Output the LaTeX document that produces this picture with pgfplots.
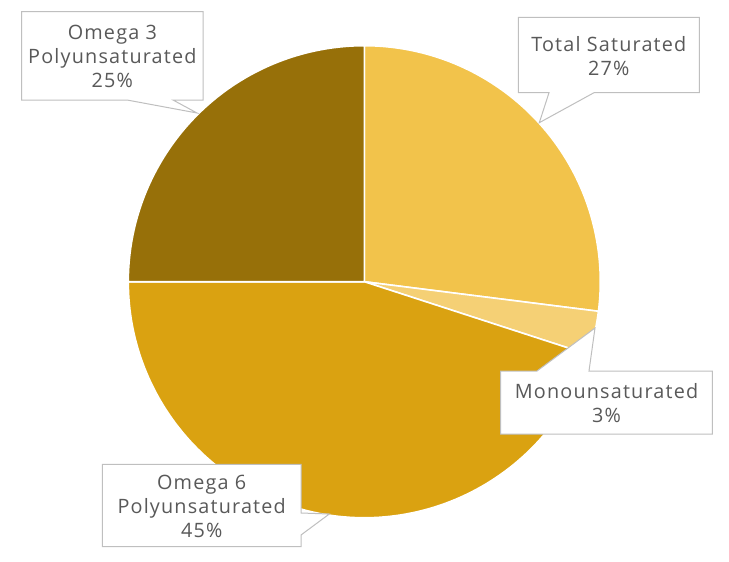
\documentclass[border=0pt]{standalone}
\usepackage{fontspec}
\setmainfont{Open Sans}[LetterSpace=6]
\usepackage{pgfplots}
\usepackage{pgfplotstable}
\pgfplotsset{compat=1.18}

\definecolor{slice0}{HTML}{F2C34B}
\definecolor{slice1}{HTML}{F5D075}
\definecolor{slice2}{HTML}{DAA211}
\definecolor{slice3}{HTML}{977009}
\definecolor{txt}{HTML}{595959}
\definecolor{boxline}{HTML}{BFBFBF}

% share of each fat type, clockwise from 12 o'clock
\pgfplotstableread[col sep=comma]{
label,value
Total Saturated,27
Monounsaturated,3
Omega 6 Polyunsaturated,45
Omega 3 Polyunsaturated,25
}\fatdata

\begin{document}
\begin{tikzpicture}
\begin{axis}[
  hide axis, scale only axis,
  x=0.5pt, y=0.5pt,
  xmin=0, xmax=729, ymin=0, ymax=562,
  y dir=reverse,
  clip=false,
]
% keep the whole canvas in the bounding box
\path (axis cs:0,0) rectangle (axis cs:729,562);
\pgfplotsextra{
  \pgfplotstablegetrowsof{\fatdata}
  \pgfmathtruncatemacro\lastrow{\pgfplotsretval-1}
  \xdef\startang{90}
  \foreach \i in {0,...,\lastrow}{
    \pgfplotstablegetelem{\i}{value}\of\fatdata
    \pgfmathsetmacro\endang{\startang-3.6*\pgfplotsretval}
    \fill[slice\i, draw=white, line width=0.8pt, line join=round]
      (axis cs:364.3,281.7) -- +(\startang:118pt)
      arc[start angle=\startang, end angle=\endang, radius=118pt] -- cycle;
    \xdef\startang{\endang}
  }
}

\tikzset{callout/.style={fill=white, draw=boxline, line width=0.5pt}}
% Omega 3
\draw[callout] (axis cs:21.7,11.7) -- (axis cs:203,11.7) -- (axis cs:203,100)
  -- (axis cs:173,100) -- (axis cs:197,113) -- (axis cs:127,100)
  -- (axis cs:21.7,100) -- cycle;
% Total saturated
\draw[callout] (axis cs:518.3,17.3) -- (axis cs:699.3,17.3) -- (axis cs:699.3,92.7)
  -- (axis cs:594,92.7) -- (axis cs:539.3,122.7) -- (axis cs:549,92.7)
  -- (axis cs:518.3,92.7) -- cycle;
% Monounsaturated
\draw[callout] (axis cs:500.7,371) -- (axis cs:537,371) -- (axis cs:595,328)
  -- (axis cs:589,371) -- (axis cs:712.3,371) -- (axis cs:712.3,434)
  -- (axis cs:500.7,434) -- cycle;
% Omega 6
\draw[callout] (axis cs:102.3,464.3) -- (axis cs:301,464.3) -- (axis cs:301,513)
  -- (axis cs:329.3,514) -- (axis cs:301,535) -- (axis cs:301,546.7)
  -- (axis cs:102.3,546.7) -- cycle;

\tikzset{lbl/.style={text=txt, align=center, font=\fontsize{9.9}{12}\selectfont, inner sep=0pt}}
\node[lbl] at (axis cs:112.4,56.5) {Omega 3\\Polyunsaturated\\25\%};
\node[lbl] at (axis cs:608.8,56) {Total Saturated\\27\%};
\node[lbl] at (axis cs:606.5,403) {Monounsaturated\\3\%};
\node[lbl] at (axis cs:201.7,506) {Omega 6\\Polyunsaturated\\45\%};
\end{axis}
\end{tikzpicture}
\end{document}
